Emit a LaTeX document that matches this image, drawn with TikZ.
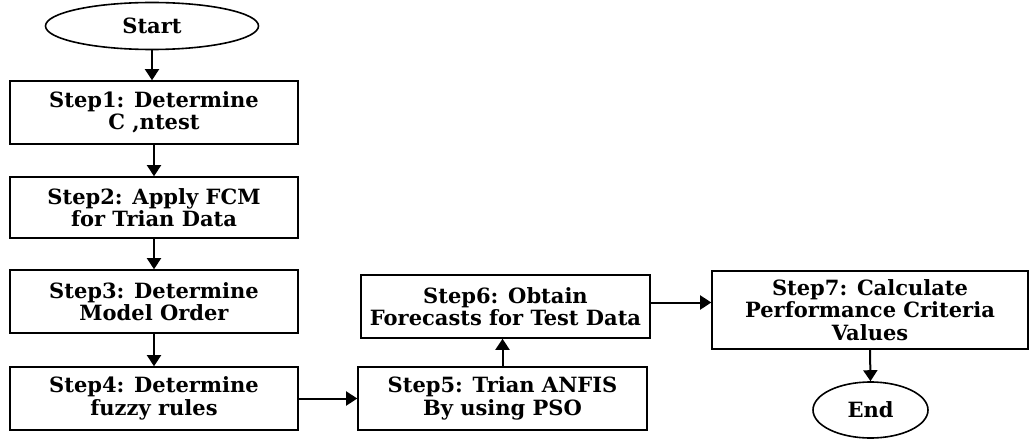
\documentclass[tikz,border=0pt]{standalone}
\usepackage{fontspec}
\setmainfont{DejaVu Serif}
\usepackage{tikz}
\usetikzlibrary{shapes.geometric, arrows.meta, positioning, calc}
\tikzset{
    box_step/.style={
        rectangle, draw=black, line width=1.6pt, fill=white,
        minimum width=288pt, minimum height=63pt, inner sep=2pt,
        align=center, font=\fontsize{21}{22.5}\selectfont\bfseries
    },
    oval_term/.style={
        ellipse, draw=black, line width=1.6pt, fill=white,
        inner sep=0pt, align=center, font=\fontsize{21}{22.5}\selectfont\bfseries
    },
    pipe_arrow/.style={
        -{Triangle[width=14pt, length=11pt]}, draw=black, line width=2pt
    }
}
\begin{document}
\begin{tikzpicture}[x=1pt, y=-1pt]
    \useasboundingbox (0,0) rectangle (1030,441);

    % Left Column (Start & Steps 1-4)
    \node[oval_term, minimum width=213pt, minimum height=47pt] (start) at (152,26) {Start};
    \node[box_step] (s1) at (154,112.5) {Step1: Determine\\C ,ntest};
    \node[box_step, minimum height=61pt] (s2) at (154,207.5) {Step2: Apply FCM\\for Trian Data};
    \node[box_step] (s3) at (154,301.5) {Step3: Determine\\Model Order};
    \node[box_step] (s4) at (154,398.5) {Step4: Determine\\fuzzy rules};

    % Middle Column (Steps 5-6)
    \node[box_step, minimum width=289pt] (s5) at (502.5,398.5) {Step5: Trian ANFIS\\By using PSO};
    \node[box_step, minimum width=289pt] (s6) at (505.5,306.5) {Step6: Obtain\\Forecasts for Test Data};

    % Right Column (Step 7 & End)
    \node[box_step, minimum width=316pt, minimum height=78pt] (s7) at (870,310) {Step7: Calculate\\Performance Criteria\\Values};
    \node[oval_term, minimum width=115pt, minimum height=56pt] (end) at (870.5,410) {End};

    % Connections
    \draw[pipe_arrow] (start.south) -- (s1.north -| start.south);
    \draw[pipe_arrow] (s1.south) -- (s2.north);
    \draw[pipe_arrow] (s2.south) -- (s3.north);
    \draw[pipe_arrow] (s3.south) -- (s4.north);
    \draw[pipe_arrow] (s4.east) -- (s5.west);
    \draw[pipe_arrow] (s5.north) -- (s6.south -| s5.north);
    \draw[pipe_arrow] ([yshift=4pt]s6.east) -- ([yshift=4pt]s6.east -| s7.west);
    \draw[pipe_arrow] (s7.south) -- (end.north);
\end{tikzpicture}
\end{document}
